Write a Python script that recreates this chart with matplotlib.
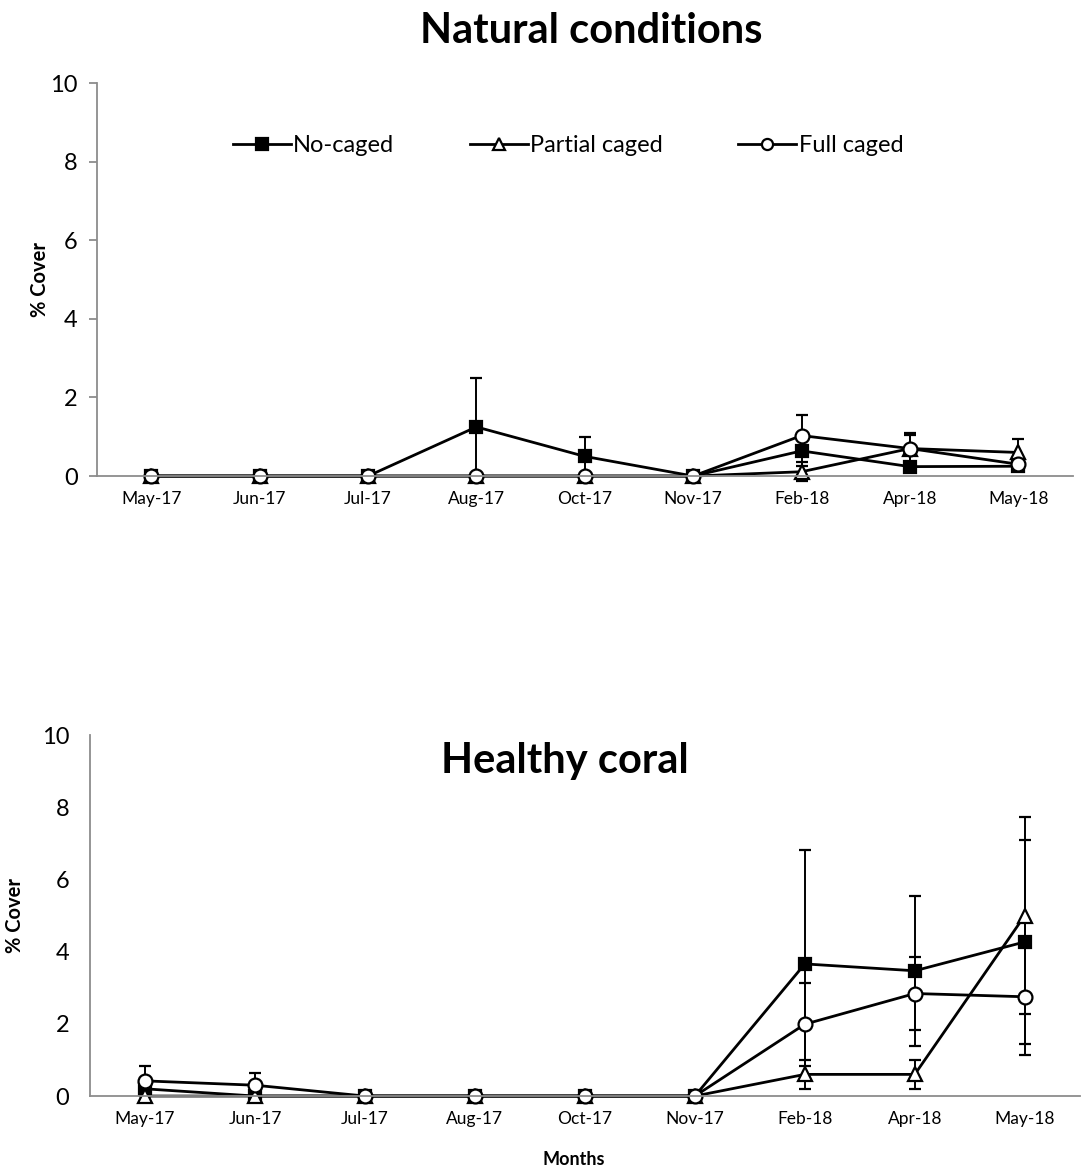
import matplotlib.pyplot as plt
from matplotlib.lines import Line2D
import numpy as np

plt.rcParams['font.family'] = ['Lato', 'DejaVu Sans']

months = ['May-17', 'Jun-17', 'Jul-17', 'Aug-17', 'Oct-17', 'Nov-17', 'Feb-18', 'Apr-18', 'May-18']
series = ['No-caged', 'Partial caged', 'Full caged']

# Natural conditions
nat_no = [0, 0, 0, 1.25, 0.5, 0, 0.64, 0.24, 0.25]
nat_no_err = [0, 0, 0, 1.25, 0.5, 0, 0.38, 0.1, 0.1]
nat_partial = [0, 0, 0, 0, 0, 0, 0.11, 0.7, 0.6]
nat_partial_err = [0, 0, 0, 0, 0, 0, 0.24, 0.35, 0.34]
nat_full = [0, 0, 0, 0, 0, 0, 1.03, 0.7, 0.3]
nat_full_err = [0, 0, 0, 0, 0, 0, 0.52, 0.4, 0.1]

# Healthy coral
hc_no = [0.2, 0, 0, 0, 0, 0, 3.66, 3.47, 4.27]
hc_no_err = [0, 0, 0, 0, 0, 0, 3.15, 2.07, 2.82]
hc_partial = [0, 0, 0, 0, 0, 0, 0.6, 0.6, 5.0]
hc_partial_err = [0, 0, 0, 0, 0, 0, 0.4, 0.4, 2.72]
hc_full = [0.42, 0.3, 0, 0, 0, 0, 1.99, 2.84, 2.75]
hc_full_err = [0.42, 0.33, 0, 0, 0, 0, 1.15, 1.0, 1.6]

styles = [('s', 'black', 9), ('^', 'white', 10), ('o', 'white', 10)]

fig = plt.figure(figsize=(10.9, 11.74), dpi=100)
ax1 = fig.add_axes([0.089, 0.5945, 0.895, 0.3348])
ax2 = fig.add_axes([0.0826, 0.0664, 0.908, 0.3075])

x = np.arange(len(months))


def draw(ax, data, ticks_out):
    for (vals, errs), (mk, fc, ms) in zip(data, styles):
        ax.errorbar(x, vals, yerr=errs, fmt='-', marker=mk, color='black',
                    mfc=fc, mec='black', mew=1.6, ms=ms, lw=2,
                    elinewidth=1.4, ecolor='black', capsize=4.5, capthick=1.4,
                    clip_on=False)
    ax.set_xlim(-0.5, 8.5)
    ax.set_ylim(0, 10)
    ax.set_yticks([0, 2, 4, 6, 8, 10])
    ax.set_xticks(x)
    ax.set_xticklabels(months, fontsize=12.5)
    for s in ['top', 'right']:
        ax.spines[s].set_visible(False)
    for s in ['left', 'bottom']:
        ax.spines[s].set_color('#8c8c8c')
        ax.spines[s].set_linewidth(1.3)
    ax.tick_params(axis='x', length=0, pad=11)
    ax.tick_params(axis='y', labelsize=17, colors='#8c8c8c', labelcolor='black',
                   length=6 if ticks_out else 0, width=1.3, pad=8 if ticks_out else 15)
    ax.set_ylabel('% Cover', fontsize=14.5, fontweight='bold')


draw(ax1, [(nat_no, nat_no_err), (nat_partial, nat_partial_err), (nat_full, nat_full_err)], True)
draw(ax2, [(hc_no, hc_no_err), (hc_partial, hc_partial_err), (hc_full, hc_full_err)], False)

ax1.yaxis.set_label_coords(-0.048, 0.5)
ax2.yaxis.set_label_coords(-0.066, 0.5)

handles = [Line2D([], [], color='black', lw=2, marker=mk, mfc=fc, mec='black',
                  mew=1.6, ms=8) for mk, fc, ms in styles]
ax1.legend(handles, series, loc='center', bbox_to_anchor=(0.483, 0.84), ncol=3,
           frameon=False, fontsize=17, handlelength=2.45, columnspacing=3.2,
           handletextpad=0.1)

fig.text(0.542, 0.974, 'Natural conditions', ha='center', va='center',
         fontsize=30, fontweight='bold')
fig.text(0.518, 0.352, 'Healthy coral', ha='center', va='center',
         fontsize=30, fontweight='bold')
fig.text(0.526, 0.012, 'Months', ha='center', va='center',
         fontsize=13, fontweight='bold')

fig.savefig('out.png', dpi=100)
